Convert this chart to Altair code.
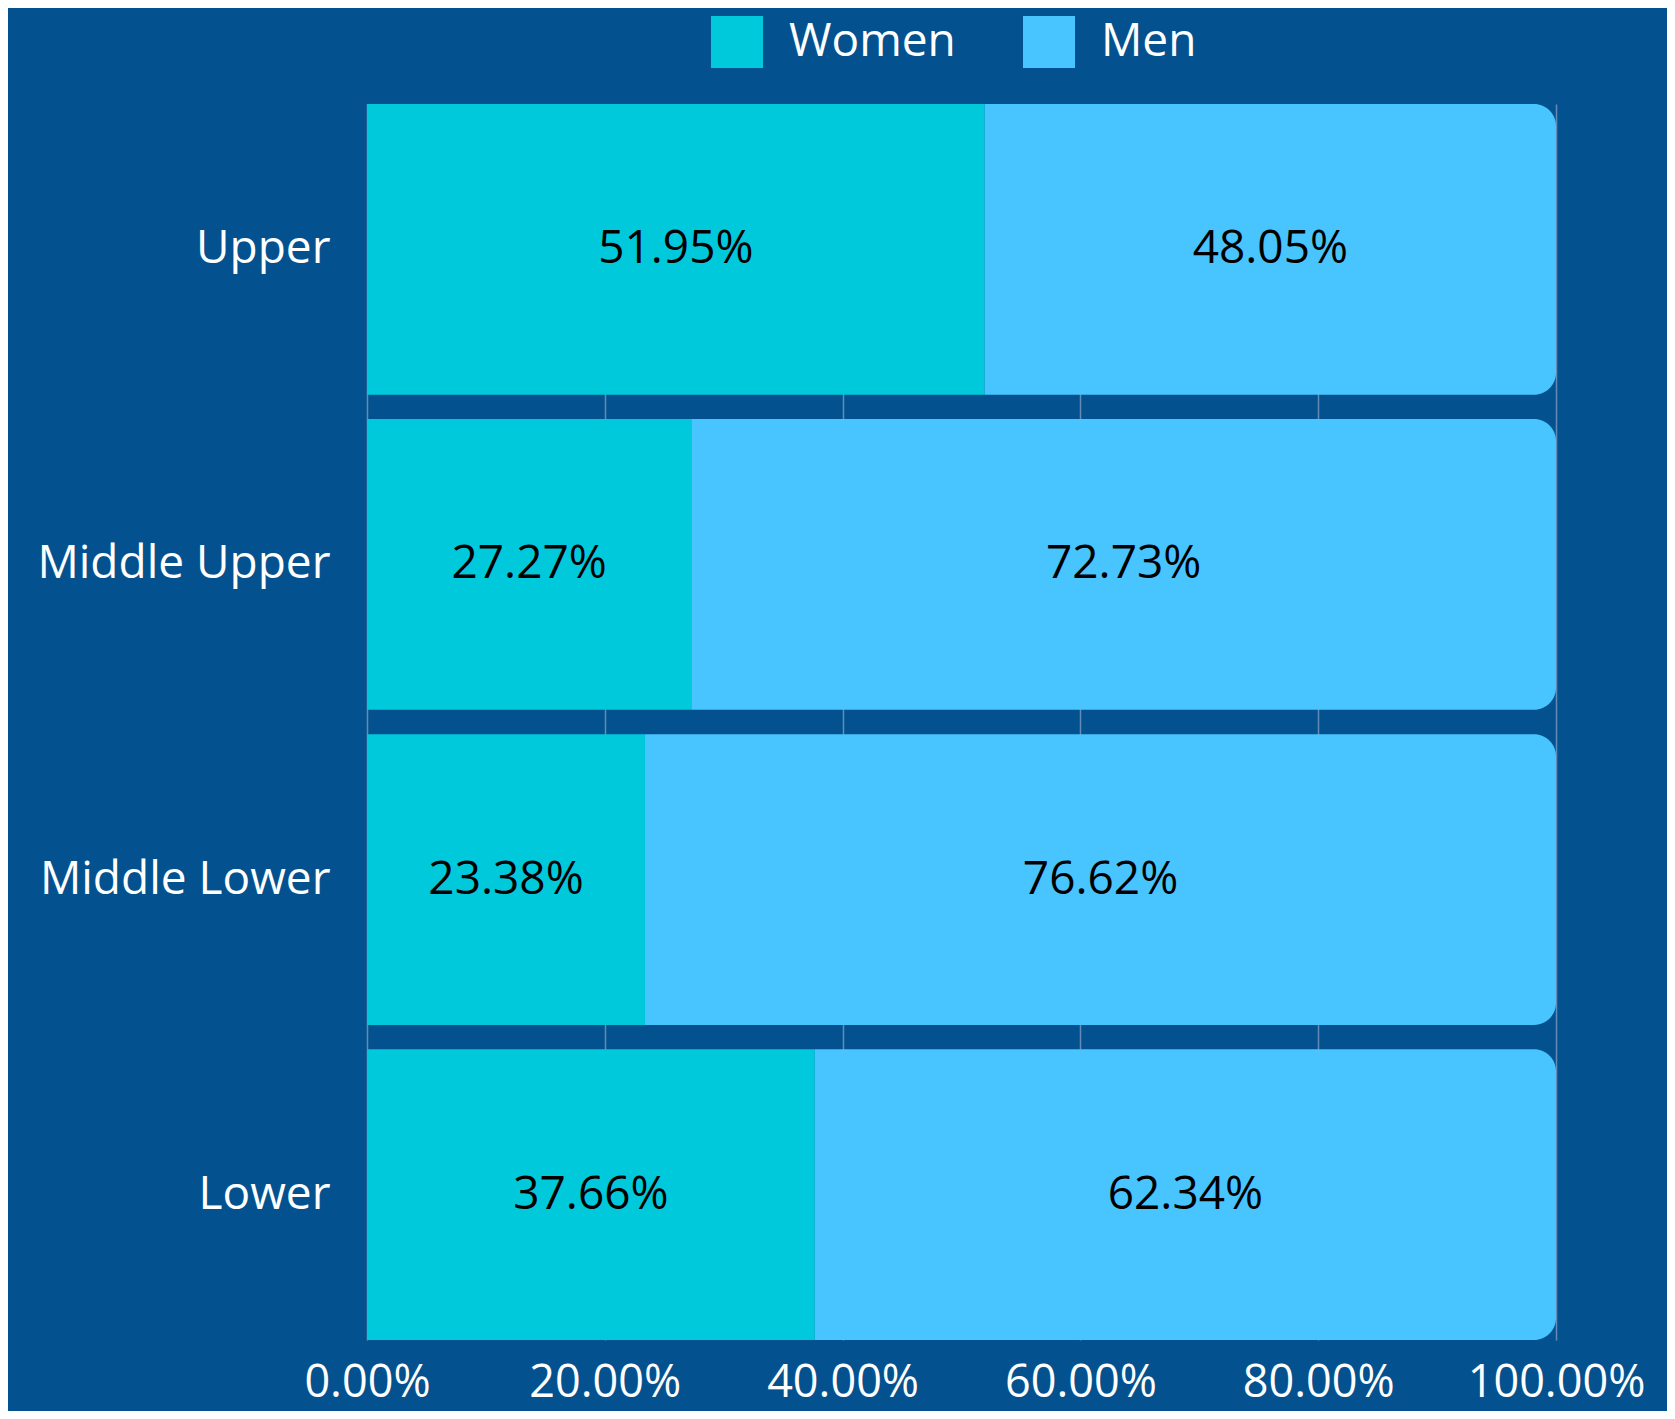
import altair as alt
import pandas as pd

groups = ["Upper", "Middle Upper", "Middle Lower", "Lower"]
women = [51.95, 27.27, 23.38, 37.66]
men = [48.05, 72.73, 76.62, 62.34]
genders = ["Women", "Men"]
colors = ["#00C9DC", "#48C4FF"]
x_ticks = [0, 20, 40, 60, 80, 100]

rows = []
for g, w, m in zip(groups, women, men):
    rows.append({"group": g, "gender": "Women", "value": w, "ord": 0})
    rows.append({"group": g, "gender": "Men", "value": m, "ord": 1})
df = pd.DataFrame(rows)

BG = "#03528F"
FONT = "Open Sans"

color_scale = alt.Scale(domain=genders, range=colors)
y_enc = alt.Y("group:N", sort=groups, title=None,
              scale=alt.Scale(paddingInner=0.077, paddingOuter=0),
              axis=alt.Axis(ticks=False, domain=False, labelPadding=37,
                            labelFontSize=46, labelColor="white", labelFont=FONT,
                            labelLimit=600))
x_axis = alt.Axis(values=x_ticks, ticks=False, domain=False, labelPadding=20,
                  labelFontSize=45, labelColor="white", labelFont=FONT,
                  labelExpr="format(datum.value, '.2f') + '%'",
                  grid=True, gridColor="#7A9BC0", gridWidth=1.5, gridOpacity=0.8,
                  title=None, labelFlush=False, labelLimit=600)

base = alt.Chart(df).transform_stack(
    stack="value", groupby=["group"], as_=["x0", "x1"],
    sort=[alt.SortField("ord", order="ascending")]
)

legend = alt.Legend(orient="none", legendX=344, legendY=-88, direction="horizontal",
                    title=None, symbolType="square", symbolSize=2704,
                    symbolStrokeWidth=0, symbolOpacity=1,
                    labelFontSize=46, labelColor="white", labelFont=FONT,
                    labelOffset=26, columnPadding=67, padding=0, labelLimit=600)

women_bars = base.transform_filter(alt.datum.gender == "Women").mark_bar(
    cornerRadius=0
).encode(
    x=alt.X("x0:Q", scale=alt.Scale(domain=[0, 100], nice=False), axis=x_axis),
    x2="x1:Q",
    y=y_enc,
    color=alt.Color("gender:N", scale=color_scale, sort=genders, legend=legend),
)

men_bars = base.transform_filter(alt.datum.gender == "Men").mark_bar(
    cornerRadiusTopRight=22, cornerRadiusBottomRight=22
).encode(
    x=alt.X("x0:Q", scale=alt.Scale(domain=[0, 100], nice=False)),
    x2="x1:Q",
    y=alt.Y("group:N", sort=groups),
    color=alt.Color("gender:N", scale=color_scale, sort=genders, legend=legend),
)

labels = base.transform_calculate(
    mid="(datum.x0 + datum.x1) / 2",
    lab="format(datum.value, '.2f') + '%'"
).mark_text(fontSize=46, font=FONT, color="black", baseline="middle", align="center").encode(
    x=alt.X("mid:Q"),
    y=alt.Y("group:N", sort=groups),
    text="lab:N",
)

chart = alt.layer(women_bars, men_bars, labels).properties(
    width=1189, height=1236,
    background=BG,
    autosize=alt.AutoSizeParams(type="none"),
    padding={"left": 359, "top": 96, "right": 111, "bottom": 71},
).configure_view(stroke=None)

chart.save("out.html", embed_options={"renderer": "svg", "actions": False})
